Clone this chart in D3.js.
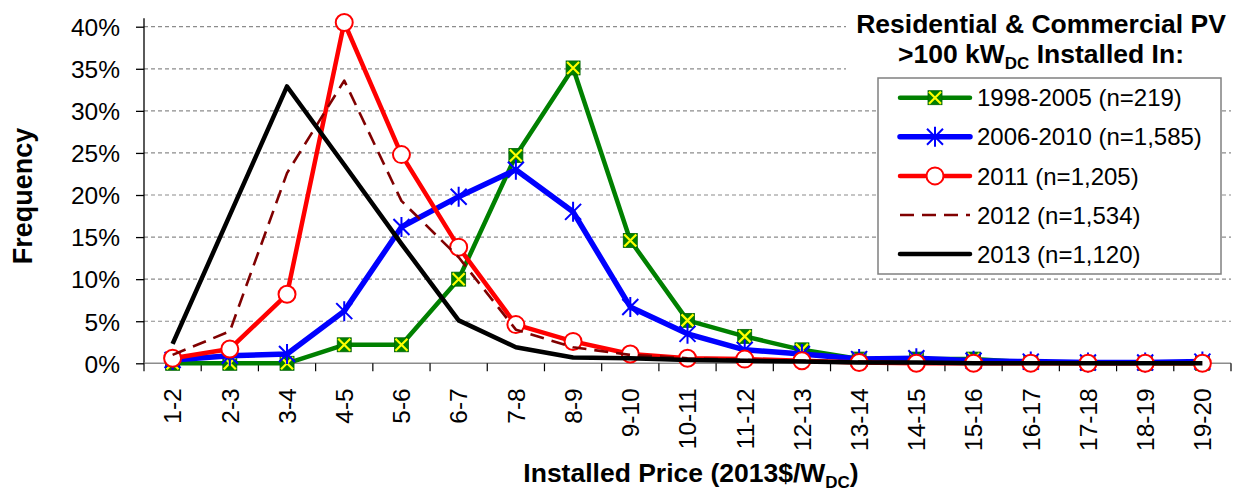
<!DOCTYPE html>
<html><head><meta charset="utf-8">
<script src="https://cdn.jsdelivr.net/npm/d3@7/dist/d3.min.js"></script>
<style>
body{margin:0;background:#fff;}
svg text{font-family:"Liberation Sans",Arial,sans-serif;fill:#000;}
</style></head>
<body><svg id="c" width="1234" height="491"></svg>
<script>
const categories = ["1-2","2-3","3-4","4-5","5-6","6-7","7-8","8-9","9-10","10-11","11-12","12-13","13-14","14-15","15-16","16-17","17-18","18-19","19-20"];
const s1998 = [0,0,0,2.2,2.2,10.0,24.7,35.1,14.6,5.1,3.2,1.6,0.5,0.5,0.5,0.1,0,0,0];
const s2006 = [0.4,0.9,1.1,6.2,16.2,19.8,23.0,18.0,6.7,3.5,1.6,1.1,0.5,0.6,0.3,0.2,0.1,0.1,0.2];
const s2011 = [0.6,1.7,8.2,40.5,24.8,13.8,4.6,2.6,1.1,0.6,0.5,0.3,0.1,0,0,0,0,0,0];
const s2012 = [1.0,3.8,22.6,33.6,19.3,12.6,4.0,1.9,1.0,0.6,0.4,0.3,0.2,0.1,0.1,0,0,0,0];
const s2013 = [2.3,17.6,32.9,23.6,14.2,5.1,1.9,0.7,0.6,0.4,0.3,0.2,0.1,0.1,0,0,0,0,0];
const yTicks = [0,5,10,15,20,25,30,35,40];
const seriesNames = ["1998-2005 (n=219)","2006-2010 (n=1,585)","2011 (n=1,205)","2012 (n=1,534)","2013 (n=1,120)"];

const series = [
  {name:seriesNames[0], values:s1998, color:"#008000", width:4.5, marker:"square"},
  {name:seriesNames[1], values:s2006, color:"#0000FF", width:5.5, marker:"star"},
  {name:seriesNames[2], values:s2011, color:"#FF0000", width:4.5, marker:"circle"},
  {name:seriesNames[3], values:s2012, color:"#800000", width:2.6, marker:null, dash:"14,8"},
  {name:seriesNames[4], values:s2013, color:"#000000", width:4.5, marker:null}
];

const svg = d3.select("#c");
const L=144, R=1231, T=18.3, B=363.3;
const x = d3.scaleBand().domain(categories).range([L,R]).padding(0);
const cx = c => x(c) + x.bandwidth()/2;
const y = d3.scaleLinear().domain([0,41]).range([B,T]);

// gridlines
svg.append("g").selectAll("line").data(yTicks.filter(d=>d>0)).join("line")
  .attr("x1",L).attr("x2",R).attr("y1",d=>y(d)).attr("y2",d=>y(d))
  .attr("stroke","#8c8c8c").attr("stroke-width",1.2).attr("stroke-dasharray","4,3");

// legend title white background
svg.append("rect").attr("x",846).attr("y",0).attr("width",388).attr("height",76).attr("fill","#fff");

// y axis
const yAxis = d3.axisLeft(y).tickValues(yTicks).tickSize(8).tickFormat(d=>d+"%");
const gy = svg.append("g").attr("transform",`translate(${L},0)`).call(yAxis);
gy.select(".domain").remove();
gy.append("line").attr("x1",0).attr("x2",0).attr("y1",T).attr("y2",B).attr("stroke","#000").attr("stroke-width",1.3);
gy.selectAll(".tick line").attr("stroke","#000").attr("stroke-width",1.3);
gy.selectAll(".tick text").attr("x",-24).attr("dy","0.36em").style("font-size","24.5px").style("font-family","'Liberation Sans',Arial,sans-serif").attr("fill","#000");

// x axis
const gx = svg.append("g").attr("transform",`translate(0,${B})`);
gx.append("line").attr("x1",L).attr("x2",R).attr("stroke","#8c8c8c").attr("stroke-width",1.5);
const edges = categories.map(c=>x(c)).concat([R]);
gx.selectAll("line.tk").data(edges).join("line").attr("class","tk")
  .attr("x1",d=>d).attr("x2",d=>d).attr("y1",0).attr("y2",8).attr("stroke","#000").attr("stroke-width",1.2);
gx.selectAll("text").data(categories).join("text")
  .attr("transform",d=>`translate(${cx(d)},25) rotate(-90)`)
  .attr("text-anchor","end").attr("dy","0.36em").style("font-size","24.5px").text(d=>d);

// lines
const line = d3.line().x((d,i)=>cx(categories[i])).y(d=>y(d));
function drawMarker(g, type, px, py, color){
  if(type==="square"){
    g.append("rect").attr("x",px-7).attr("y",py-7).attr("width",14).attr("height",14).attr("fill","#008000").attr("stroke","#006400").attr("stroke-width",0.8);
    g.append("path").attr("d",`M${px-6},${py-6}L${px+6},${py+6}M${px+6},${py-6}L${px-6},${py+6}`).attr("stroke","#FFFF00").attr("stroke-width",2.2);
  } else if(type==="star"){
    g.append("path").attr("d",`M${px-8},${py-8}L${px+8},${py+8}M${px+8},${py-8}L${px-8},${py+8}M${px},${py-10}L${px},${py+10}`).attr("stroke",color).attr("stroke-width",2);
  } else if(type==="circle"){
    g.append("circle").attr("cx",px).attr("cy",py).attr("r",8.5).attr("fill","#fff").attr("stroke",color).attr("stroke-width",2);
  }
}
series.forEach(s=>{
  const g = svg.append("g");
  g.append("path").datum(s.values).attr("d",line).attr("fill","none")
    .attr("stroke",s.color).attr("stroke-width",s.width).attr("stroke-linejoin","round")
    .attr("stroke-dasharray",s.dash||null);
  if(s.marker){
    s.values.forEach((v,i)=>drawMarker(g,s.marker,cx(categories[i]),y(v),s.color));
  }
});

// legend
svg.append("rect").attr("x",878).attr("y",78).attr("width",343).attr("height",196).attr("fill","#fff").attr("stroke","#808080").attr("stroke-width",1.5);
svg.append("text").attr("x",1041).attr("y",33).attr("text-anchor","middle").style("font-size","26.5px").style("font-weight","bold").text("Residential & Commercial PV");
const t2 = svg.append("text").attr("x",1041).attr("y",63).attr("text-anchor","middle").style("font-size","26.5px").style("font-weight","bold");
t2.append("tspan").text(">100 kW");
t2.append("tspan").attr("dy",6).style("font-size","17px").text("DC");
t2.append("tspan").attr("dy",-6).text(" Installed In:");
series.forEach((s,i)=>{
  const ry = 97.7 + i*39.1;
  const g = svg.append("g");
  g.append("line").attr("x1",900).attr("x2",970).attr("y1",ry).attr("y2",ry).attr("stroke",s.color).attr("stroke-width",s.width).attr("stroke-dasharray",s.dash||null).attr("stroke-linecap",s.dash?"butt":"round");
  if(s.marker) drawMarker(g,s.marker,935,ry,s.color);
  g.append("text").attr("x",977).attr("y",ry).attr("dy","0.36em").style("font-size","24px").text(s.name);
});

// axis titles
svg.append("text").attr("transform","translate(32,196) rotate(-90)").attr("text-anchor","middle").style("font-size","27px").style("font-weight","bold").text("Frequency");
const xt = svg.append("text").attr("x",691).attr("y",482).attr("text-anchor","middle").style("font-size","26.5px").style("font-weight","bold");
xt.append("tspan").text("Installed Price (2013$/W");
xt.append("tspan").attr("dy",6).style("font-size","17px").text("DC");
xt.append("tspan").attr("dy",-6).text(")");
</script></body></html>
